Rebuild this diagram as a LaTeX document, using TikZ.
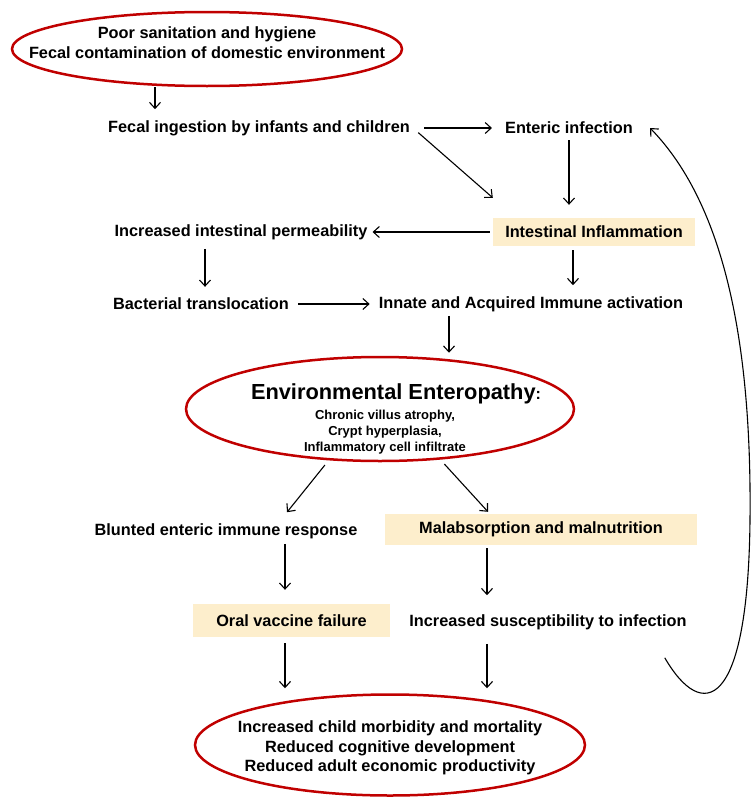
\documentclass[tikz,border=0pt]{standalone}
\usepackage{fontspec}
\setmainfont{Liberation Sans}
\usetikzlibrary{shapes.geometric,arrows.meta}
\definecolor{ovalred}{RGB}{192,0,0}
\definecolor{boxfill}{RGB}{253,238,204}
\begin{document}
\begin{tikzpicture}[x=1pt,y=-1pt,
  txt/.style={font=\fontsize{16.3}{19.5}\selectfont\bfseries, inner sep=3pt, align=center},
  hilite/.style={txt, fill=boxfill},
  oval/.style={ellipse, draw=ovalred, line width=2.5pt, inner sep=0pt},
  arr/.style={->, >={Straight Barb[length=6pt,width=11pt]}, line width=1.1pt}]
\useasboundingbox (0,0) rectangle (752,798);

\node[oval, minimum width=390pt, minimum height=74pt] (top) at (207,49) {};
\node[txt] (topt) at (207,42.5) {Poor sanitation and hygiene\\Fecal contamination of domestic environment};

\node[txt] (fecal) at (259,128) {Fecal ingestion by infants and children};
\node[txt] (enteric) at (569,128) {Enteric infection};
\node[hilite, minimum width=202pt, minimum height=28pt] (inflam) at (594,232) {Intestinal Inflammation};
\node[txt] (perm) at (241,232) {Increased intestinal permeability};
\node[txt] (bact) at (201,304) {Bacterial translocation};
\node[txt] (innate) at (531,304) {Innate and Acquired Immune activation};

\node[oval, minimum width=388pt, minimum height=104pt] (ee) at (380,409) {};
\node[txt, font=\fontsize{21.8}{24}\selectfont\bfseries] (eet) at (396,394) {Environmental Enteropathy{\fontsize{16}{16}\selectfont:}};
\node[txt, font=\fontsize{13}{16.2}\selectfont\bfseries] (eesub) at (385,432) {Chronic villus atrophy,\\Crypt hyperplasia,\\Inflammatory cell infiltrate};

\node[txt] (blunted) at (226,531) {Blunted enteric immune response};
\node[hilite, minimum width=312pt, minimum height=31pt] (malab) at (541,529.5) {Malabsorption and malnutrition};
\node[hilite, minimum width=197pt, minimum height=33pt] (oral) at (291.5,620.5) {Oral vaccine failure};
\node[txt] (susc) at (548,622) {Increased susceptibility to infection};

\node[oval, minimum width=390pt, minimum height=101pt] (bot) at (390,745) {};
\node[txt] (bott) at (390,748) {Increased child morbidity and mortality\\Reduced cognitive development\\Reduced adult economic productivity};

\draw[arr, shorten >=8pt] ([xshift=-52pt]top.south) -- ([xshift=-104pt]fecal.north);
\draw[arr, shorten <=11pt, shorten >=10pt] (fecal.east) -- (enteric.west);
\draw[arr, shorten <=7pt] (fecal.east) -- ([yshift=20pt]inflam.north west);
\draw[arr, shorten <=3pt, shorten >=13pt] (enteric.south) -- (enteric.south |- inflam.north);
\draw[arr, shorten <=3pt, shorten >=2pt] (inflam.west) -- (perm.east);
\draw[arr, shorten <=6pt, shorten >=8pt] ([xshift=-36pt]perm.south) -- ([xshift=4pt]bact.north);
\draw[arr, shorten <=6pt, shorten >=6pt] (bact.east) -- (innate.west);
\draw[arr, shorten <=4pt, shorten >=8pt] ([xshift=-21pt]inflam.south) -- ([xshift=42pt]innate.north);
\draw[arr, shorten <=1pt, shorten >=3pt] ([xshift=-82pt]innate.south) -- ([xshift=69pt]ee.north);
\draw[arr, shorten <=6pt] (ee.225) -- ([shift={(61pt,8pt)}]blunted.north);
\draw[arr, shorten <=6pt] (ee.-40) -- ([shift={(-53pt,2pt)}]malab.north);
\draw[arr, shorten <=2pt, shorten >=14pt] ([xshift=59pt]blunted.south) -- ([xshift=-6.5pt]oral.north);
\draw[arr, shorten <=3pt, shorten >=16pt] ([xshift=-54pt]malab.south) -- ([xshift=-61pt]susc.north);
\draw[arr, shorten <=6pt, shorten >=5pt] ([xshift=-6.5pt]oral.south) -- ([xshift=-105pt]bot.north);
\draw[arr, shorten <=11pt, shorten >=5pt] ([xshift=-61pt]susc.south) -- ([xshift=97pt]bot.north);
\draw[arr] ([shift={(-25pt,-25pt)}]susc.south east) .. controls (702,722) and (748,712) .. (750,520)
  .. controls (752,330) and (720,200) .. ([xshift=14pt]enteric.east);
\end{tikzpicture}
\end{document}
